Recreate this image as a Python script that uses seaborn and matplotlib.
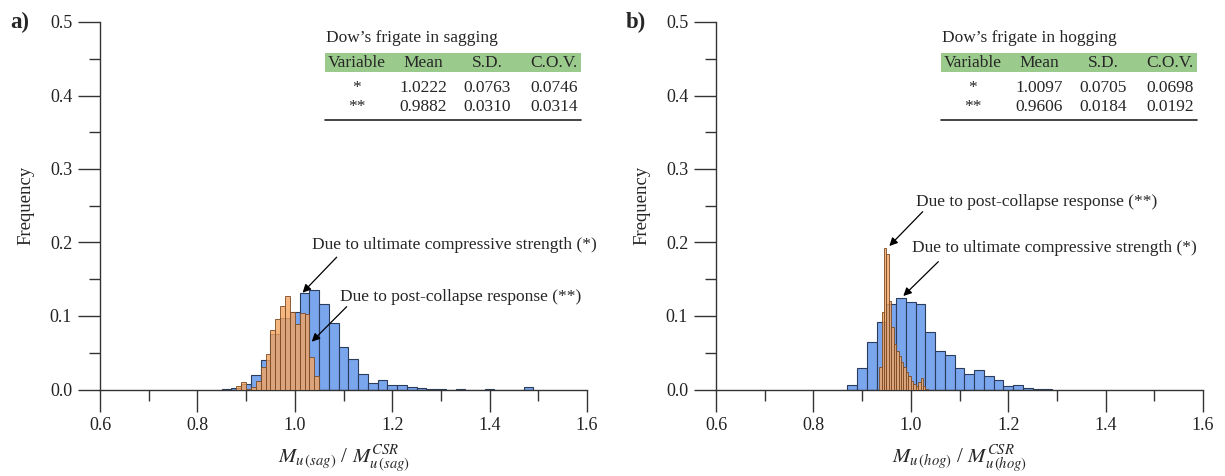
import numpy as np
import pandas as pd
import matplotlib
matplotlib.use("Agg")
import matplotlib.pyplot as plt
import seaborn as sns
from matplotlib.patches import Rectangle
from matplotlib.lines import Line2D
from matplotlib.ticker import MultipleLocator, FormatStrFormatter

# ---------------- data ----------------
# (a) sagging, ultimate compressive strength (*), bin width 0.02
sag_ult_centers = [0.86, 0.88, 0.90, 0.92, 0.94, 0.96, 0.98, 1.00, 1.02, 1.04,
                   1.06, 1.08, 1.10, 1.12, 1.14, 1.16, 1.18, 1.20, 1.22, 1.24,
                   1.26, 1.28, 1.30, 1.32, 1.34, 1.36, 1.38, 1.40, 1.42, 1.44,
                   1.46, 1.48]
sag_ult_freq = [0.001, 0.002, 0.0077, 0.0195, 0.040, 0.075, 0.097, 0.105, 0.131, 0.135,
                0.116, 0.091, 0.058, 0.041, 0.021, 0.009, 0.0136, 0.0063, 0.0063, 0.0032,
                0.002, 0.001, 0.001, 0.0, 0.0012, 0.0, 0.0, 0.0012, 0.0, 0.0,
                0.0, 0.0035]
# (a) sagging, post-collapse response (**), bin width 0.01
sag_post_centers = [0.885, 0.895, 0.905, 0.915, 0.925, 0.935, 0.945, 0.955, 0.965,
                    0.975, 0.985, 0.995, 1.005, 1.015, 1.025, 1.035, 1.045]
sag_post_freq = [0.005, 0.010, 0.001, 0.004, 0.012, 0.030, 0.048, 0.081, 0.096,
                 0.113, 0.127, 0.105, 0.089, 0.104, 0.103, 0.044, 0.019]
# (b) hogging, ultimate compressive strength (*), bin width 0.02
hog_ult_centers = [0.88, 0.90, 0.92, 0.94, 0.96, 0.98, 1.00, 1.02, 1.04, 1.06,
                   1.08, 1.10, 1.12, 1.14, 1.16, 1.18, 1.20, 1.22, 1.24, 1.26, 1.28]
hog_ult_freq = [0.0068, 0.0294, 0.0652, 0.0915, 0.117, 0.1245, 0.1187, 0.1164, 0.078, 0.052,
                0.047, 0.029, 0.0213, 0.0267, 0.018, 0.0136, 0.005, 0.0063, 0.0023, 0.0005, 0.0003]
# (b) hogging, post-collapse response (**), bin width 0.005
hog_post_centers = [0.9375, 0.9425, 0.9475, 0.9525, 0.9575, 0.9625, 0.9675, 0.9725,
                    0.9775, 0.9825, 0.9875, 0.9925, 0.9975, 1.0025, 1.0075, 1.0125,
                    1.0175, 1.0225, 1.0275, 1.0325]
hog_post_freq = [0.030, 0.105, 0.192, 0.185, 0.121, 0.085, 0.062, 0.053,
                 0.045, 0.038, 0.030, 0.024, 0.018, 0.012, 0.007, 0.005,
                 0.010, 0.016, 0.005, 0.001]

table_header = ["Variable", "Mean", "S.D.", "C.O.V."]
sag_title = "Dow\u2019s frigate in sagging"
hog_title = "Dow\u2019s frigate in hogging"
sag_rows = [["*", "1.0222", "0.0763", "0.0746"],
            ["**", "0.9882", "0.0310", "0.0314"]]
hog_rows = [["*", "1.0097", "0.0705", "0.0698"],
            ["**", "0.9606", "0.0184", "0.0192"]]

# ---------------- style ----------------
sns.set_style("ticks")
plt.rcParams["font.family"] = ["Liberation Serif", "DejaVu Serif"]
plt.rcParams["mathtext.fontset"] = "stix"

BLUE = "#6f9fed"
BLUE_EDGE = "#2c3c5c"
ORANGE = "#f4a460"
ORANGE_EDGE = "#7a4a22"
GREEN = "#9bcb8c"
AXC = "#333333"

W, H = 1225, 476
fig = plt.figure(figsize=(W / 100, H / 100), dpi=100)
ax_y0 = 1 - 389.5 / H
ax_h = 367.5 / H
axL = fig.add_axes([100 / W, ax_y0, 487 / W, ax_h])
axR = fig.add_axes([716 / W, ax_y0, 487 / W, ax_h])


def edges_from(centers, width):
    c = np.asarray(centers, dtype=float)
    return [float(v) for v in np.append(c - width / 2, c[-1] + width / 2)]


def draw_hist(ax, uc, uf, uw, pc, pf, pw):
    du = pd.DataFrame({"value": uc, "freq": uf})
    dp = pd.DataFrame({"value": pc, "freq": pf})
    sns.histplot(data=du, x="value", weights="freq", bins=edges_from(uc, uw),
                 color=BLUE, alpha=0.92, edgecolor=BLUE_EDGE, linewidth=0.8,
                 ax=ax, zorder=2)
    sns.histplot(data=dp, x="value", weights="freq", bins=edges_from(pc, pw),
                 color=ORANGE, alpha=0.8, edgecolor=ORANGE_EDGE, linewidth=0.6,
                 ax=ax, zorder=3)


def style_axes(ax, xlabel):
    ax.set_xlim(0.6, 1.6)
    ax.set_ylim(0, 0.5)
    for s in ["top", "right"]:
        ax.spines[s].set_visible(False)
    for s in ["left", "bottom"]:
        ax.spines[s].set_color(AXC)
        ax.spines[s].set_linewidth(1.0)
    ax.xaxis.set_major_locator(MultipleLocator(0.2))
    ax.xaxis.set_minor_locator(MultipleLocator(0.1))
    ax.yaxis.set_major_locator(MultipleLocator(0.1))
    ax.yaxis.set_minor_locator(MultipleLocator(0.05))
    ax.xaxis.set_major_formatter(FormatStrFormatter("%.1f"))
    ax.yaxis.set_major_formatter(FormatStrFormatter("%.1f"))
    ax.tick_params(which="major", direction="out", length=16, width=1.0, color=AXC,
                   labelsize=13, labelcolor="#222222", pad=4)
    ax.tick_params(which="minor", direction="out", length=8, width=1.0, color=AXC)
    ax.set_xlabel(xlabel, fontsize=15, labelpad=7)
    ax.set_ylabel("Frequency", fontsize=13.5, labelpad=11)


def draw_table(ax, title, rows):
    x0, x1 = 0.462, 0.987
    ax.text(0.464, 0.9556, title, transform=ax.transAxes, fontsize=12.5,
            ha="left", va="center")
    ax.add_patch(Rectangle((x0, 0.8648), x1 - x0, 0.050, transform=ax.transAxes,
                           facecolor=GREEN, edgecolor="none", zorder=4))
    col_x = [0.5267, 0.6632, 0.7947, 0.9322]
    for cx, h in zip(col_x, table_header):
        ax.text(cx, 0.8875, h, transform=ax.transAxes, fontsize=12.5,
                ha="center", va="center", zorder=5)
    for ry, row in zip([0.8212, 0.7695], rows):
        for cx, v in zip(col_x, row):
            ax.text(cx, ry, v, transform=ax.transAxes, fontsize=12.5,
                    ha="center", va="center", zorder=5)
    ax.add_line(Line2D([x0, x1], [0.7333, 0.7333], transform=ax.transAxes,
                       color="#222222", lw=1.2, zorder=5))


def arrow_note(ax, text, txy, start, tip):
    ax.annotate("", xy=tip, xytext=start,
                arrowprops=dict(arrowstyle="-|>", color="black", lw=0.9,
                                mutation_scale=12, shrinkA=0, shrinkB=0), zorder=6)
    ax.text(txy[0], txy[1], text, fontsize=12.5, ha="left", va="center", zorder=6)


# ---------------- panel (a) ----------------
draw_hist(axL, sag_ult_centers, sag_ult_freq, 0.02, sag_post_centers, sag_post_freq, 0.01)
style_axes(axL, r"$M_{u\,(sag)}$ / $M_{u\,(sag)}^{CSR}$")
draw_table(axL, sag_title, sag_rows)
arrow_note(axL, "Due to ultimate compressive strength (*)", (1.035, 0.196),
           (1.086, 0.180), (1.016, 0.1317))
arrow_note(axL, "Due to post-collapse response (**)", (1.093, 0.1263),
           (1.1066, 0.1127), (1.0347, 0.065))

# ---------------- panel (b) ----------------
draw_hist(axR, hog_ult_centers, hog_ult_freq, 0.02, hog_post_centers, hog_post_freq, 0.005)
style_axes(axR, r"$M_{u\,(hog)}$ / $M_{u\,(hog)}^{CSR}$")
draw_table(axR, hog_title, hog_rows)
arrow_note(axR, "Due to post-collapse response (**)", (1.0107, 0.2555),
           (1.0244, 0.2419), (0.9559, 0.1952))
arrow_note(axR, "Due to ultimate compressive strength (*)", (1.0018, 0.192),
           (1.0565, 0.1739), (0.9846, 0.1272))

fig.text(10 / W, 1 - 22 / H, "a)", fontsize=16.5, fontweight="bold", ha="left", va="center")
fig.text(626 / W, 1 - 22 / H, "b)", fontsize=16.5, fontweight="bold", ha="left", va="center")

fig.savefig("out.png", dpi=100)
